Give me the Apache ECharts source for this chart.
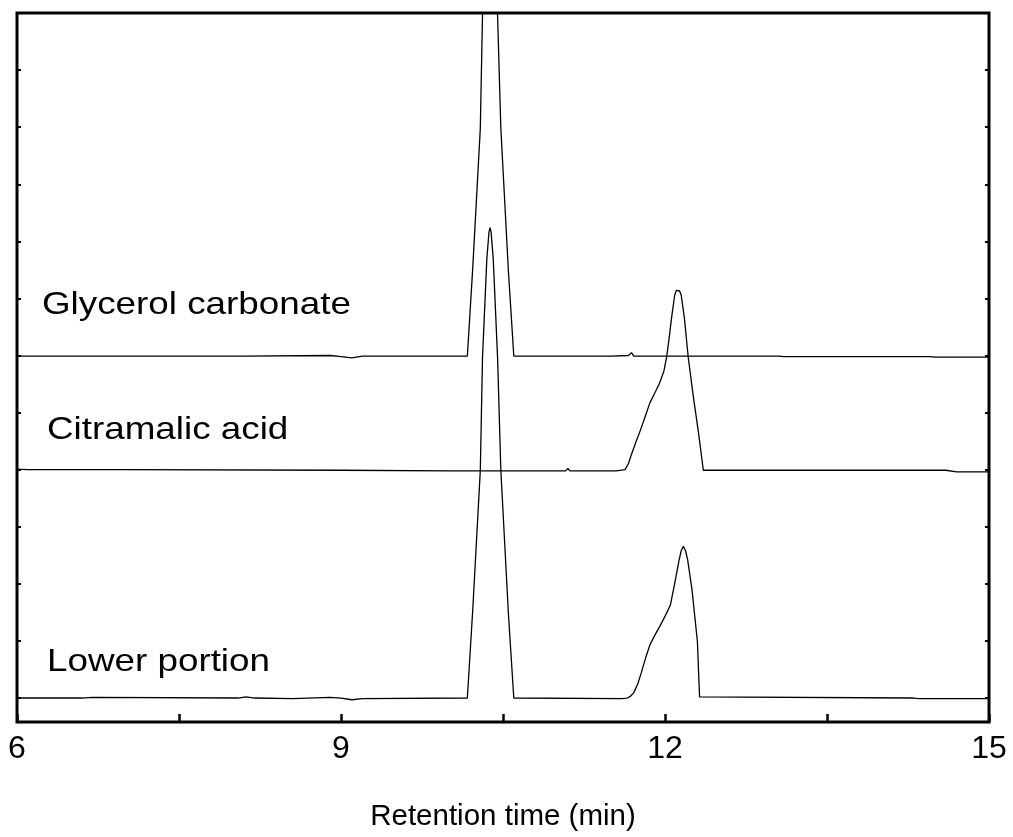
<!DOCTYPE html>
<html>
<head>
<meta charset="utf-8">
<script src="https://cdn.jsdelivr.net/npm/echarts@6/dist/echarts.min.js"></script>
<style>
  html, body { margin: 0; padding: 0; background: #fff; }
  #draw { width: 1013px; height: 837px; }
</style>
</head>
<body>
<div id="draw"></div>
<script>
  // [retention time (min), signal] , signal in tick units counted from the x axis
  var glycerolCarbonate = [
    [6.00, 6.41], [7.20, 6.41], [8.10, 6.41], [8.90, 6.42], [9.00, 6.40], [9.10, 6.38], [9.20, 6.41],
    [10.17, 6.41], [10.22, 7.96], [10.29, 10.40], [10.31, 12.36], [10.35, 14.3], [10.38, 15.4],
    [10.41, 14.3], [10.45, 12.36], [10.48, 10.40], [10.55, 7.90], [10.60, 6.41],
    [11.50, 6.41], [11.66, 6.42], [11.69, 6.47], [11.71, 6.41], [13.05, 6.41], [13.10, 6.40],
    [14.45, 6.40], [14.50, 6.39], [15.00, 6.39]
  ]
  var citramalicAcid = [
    [6.00, 4.43], [6.10, 4.42], [7.00, 4.42], [9.00, 4.41], [10.00, 4.40], [11.08, 4.40], [11.10, 4.44],
    [11.12, 4.40], [11.55, 4.40], [11.63, 4.42], [11.66, 4.52], [11.69, 4.69], [11.73, 4.90],
    [11.77, 5.10], [11.82, 5.37], [11.86, 5.59], [11.91, 5.78], [11.95, 5.94], [11.99, 6.15],
    [12.015, 6.39], [12.04, 6.75], [12.06, 7.07], [12.09, 7.48], [12.105, 7.56], [12.12, 7.58],
    [12.135, 7.55], [12.15, 7.48], [12.18, 7.07], [12.215, 6.39], [12.26, 5.73], [12.31, 5.07],
    [12.355, 4.41], [13.50, 4.41], [14.60, 4.41], [14.70, 4.38], [15.00, 4.38]
  ]
  var lowerPortion = [
    [6.00, 0.42], [6.60, 0.42], [6.70, 0.43], [8.05, 0.42], [8.12, 0.44], [8.20, 0.42], [8.55, 0.41],
    [8.90, 0.43], [9.00, 0.42], [9.10, 0.39], [9.20, 0.41], [10.17, 0.42], [10.22, 1.97],
    [10.29, 4.41], [10.31, 6.37], [10.35, 8.10], [10.37, 8.58], [10.38, 8.66], [10.39, 8.58],
    [10.41, 8.10], [10.45, 6.37], [10.48, 4.41], [10.55, 1.90], [10.60, 0.42], [11.60, 0.41],
    [11.65, 0.42], [11.68, 0.45], [11.71, 0.51], [11.75, 0.68], [11.78, 0.86], [11.82, 1.12],
    [11.86, 1.35], [11.90, 1.50], [11.95, 1.67], [12.00, 1.85], [12.05, 2.05], [12.09, 2.43],
    [12.13, 2.83], [12.15, 3.00], [12.17, 3.08], [12.19, 3.00], [12.21, 2.84], [12.25, 2.32],
    [12.30, 1.41], [12.32, 0.44], [12.33, 0.42], [14.30, 0.42], [14.35, 0.41], [15.00, 0.41]
  ]
  var seriesNames = ['Glycerol carbonate', 'Citramalic acid', 'Lower portion']
  var xLabels = [6, 9, 12, 15]
  var yTop = 12.42 // frame height in tick units

  var labelPos = [[42, 305], [47, 430], [47, 662]] // 曲线名称位置
  var font = 'Liberation Sans'

  var myChart = echarts.init(document.getElementById('draw'))

  var tickAxis = function (pos) {
    return {
      type: 'value',
      position: pos,
      inverse: true, // ticks counted from the top frame
      min: 0,
      max: yTop,
      interval: 1,
      axisLine: { show: false },
      axisTick: { inside: true, length: 4, lineStyle: { color: '#000', width: 2 } },
      axisLabel: { show: false },
      splitLine: { show: false }
    }
  }

  var series = [glycerolCarbonate, citramalicAcid, lowerPortion].map(function (d, i) {
    return {
      name: seriesNames[i],
      type: 'line',
      yAxisIndex: 0,
      data: d,
      symbol: 'none',
      clip: true,
      lineStyle: { color: '#000', width: 1.3 }
    }
  })

  myChart.setOption({
    animation: false,
    backgroundColor: '#fff',
    grid: { // 绘制位置
      left: 17,
      right: 24,
      top: 13,
      bottom: 111,
      show: true,
      borderColor: '#000',
      borderWidth: 3
    },
    xAxis: {
      type: 'value',
      min: 6,
      max: 15,
      interval: 1.5,
      name: 'Retention time (min)',
      nameLocation: 'middle',
      nameGap: 80,
      nameTextStyle: { fontSize: 29.5, fontFamily: font, color: '#000' },
      axisLine: { show: false },
      axisTick: { inside: true, length: 8, lineStyle: { color: '#000', width: 2.5 } },
      axisLabel: {
        margin: 11,
        fontSize: 32,
        fontFamily: font,
        color: '#000',
        formatter: function (v) { return xLabels.indexOf(v) >= 0 ? String(v) : '' }
      },
      splitLine: { show: false }
    },
    yAxis: [
      { type: 'value', min: 0, max: yTop, show: false },
      tickAxis('left'),
      tickAxis('right')
    ],
    graphic: seriesNames.map(function (n, i) {
      return {
        type: 'text',
        x: labelPos[i][0],
        y: labelPos[i][1],
        scaleX: 1.15,
        style: { text: n, fontSize: 32, fontFamily: font, fill: '#000', verticalAlign: 'middle' }
      }
    }),
    series: series
  })
</script>
</body>
</html>
